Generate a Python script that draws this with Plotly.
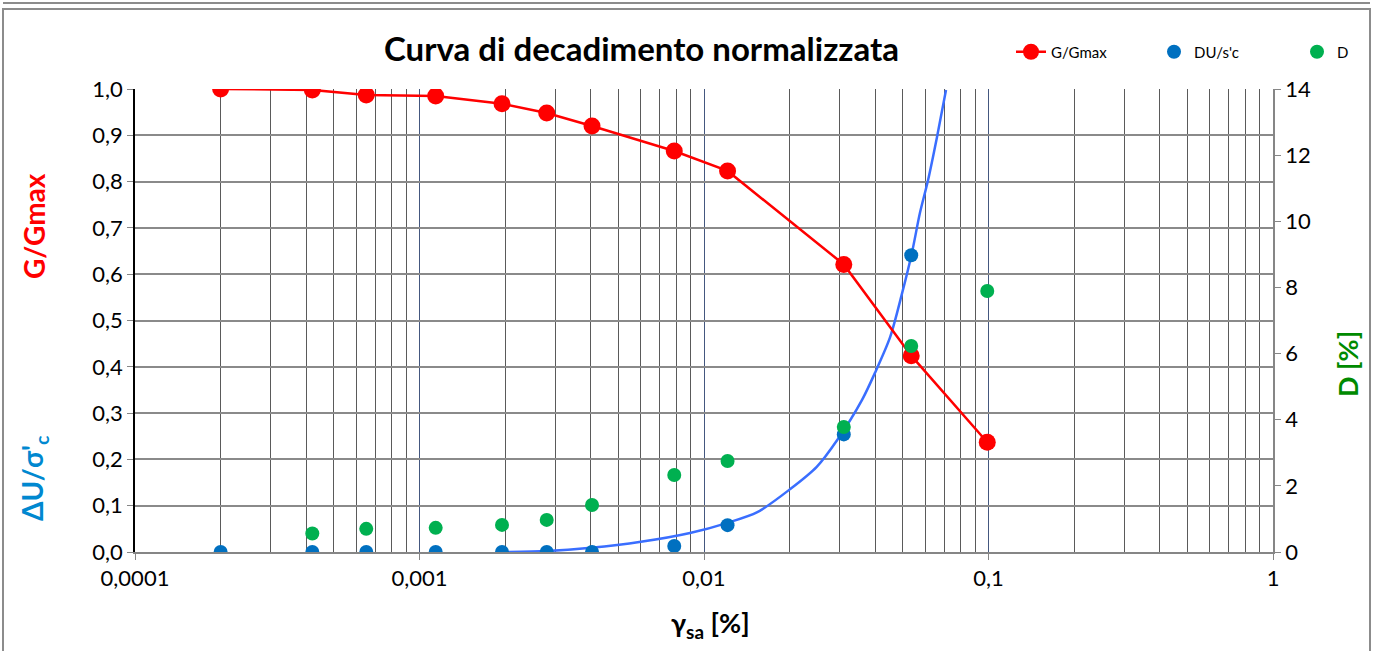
import plotly.graph_objects as go

# shear strain [%]
gamma = [0.0002, 0.00042, 0.00065, 0.00114, 0.00195, 0.0028, 0.00404, 0.00786, 0.0121, 0.031, 0.0535, 0.099]
g_gmax = [1.0, 0.998, 0.987, 0.985, 0.968, 0.948, 0.920, 0.866, 0.823, 0.621, 0.424, 0.237]

gamma_du = gamma[:11]
du_sc = [0.0, 0.0, 0.0, 0.0, 0.0, 0.0, 0.0, 0.013, 0.058, 0.254, 0.641]

gamma_d = gamma[1:]
damping = [0.56, 0.70, 0.73, 0.82, 0.97, 1.42, 2.33, 2.75, 3.78, 6.23, 7.89]

# trend curve of DU/s'c
curve_x = [0.00195, 0.0028, 0.004, 0.006, 0.00893, 0.0121, 0.0154, 0.0201, 0.0249, 0.0294,
           0.0359, 0.0399, 0.0451, 0.0497, 0.0538, 0.0574, 0.0613, 0.0659, 0.0709]
curve_y = [0.0, 0.002, 0.009, 0.022, 0.041, 0.063, 0.086, 0.136, 0.184, 0.242,
           0.328, 0.387, 0.464, 0.559, 0.646, 0.732, 0.803, 0.896, 0.998]

decades = [0.0001, 0.001, 0.01, 0.1, 1]
decade_labels = ["0,0001", "0,001", "0,01", "0,1", "1"]
minor_vals = [m * d for d in decades[:-1] for m in range(2, 10)]

FONT = "Lato"
RED = "#FF0000"
BLUE = "#0070C0"
GREEN = "#00B050"

fig = go.Figure()

fig.add_trace(go.Scatter(
    x=curve_x, y=curve_y, mode="lines",
    line=dict(color="#3A6EFF", width=2.5, shape="spline", smoothing=0.8),
    showlegend=False, hoverinfo="skip"))
fig.add_trace(go.Scatter(
    x=gamma, y=g_gmax, mode="lines+markers", name="G/Gmax",
    line=dict(color=RED, width=2.5), marker=dict(color=RED, size=17)))
fig.add_trace(go.Scatter(
    x=gamma_du, y=du_sc, mode="markers", name="DU/s'c",
    marker=dict(color=BLUE, size=14)))
fig.add_trace(go.Scatter(
    x=gamma_d, y=damping, mode="markers", name="D", yaxis="y2",
    marker=dict(color=GREEN, size=14)))

def px_x(p):
    return (p - 135) / 1138

def px_y(p):
    return (552 - p) / 463

fig.update_layout(
    width=1373, height=651,
    margin=dict(l=135, r=100, t=89, b=99, autoexpand=False),
    paper_bgcolor="white", plot_bgcolor="white",
    separators=",.",
    font=dict(family=FONT, size=22, color="black"),
    xaxis=dict(
        type="log", range=[-4, 0], tickvals=decades, ticktext=decade_labels,
        showgrid=True, gridcolor="#44577f", gridwidth=1,
        minor=dict(tickvals=minor_vals, showgrid=True, gridcolor="#5a5a5a", gridwidth=1, ticks=""),
        ticks="outside", ticklen=6, tickcolor="#868686",
        showline=True, linecolor="#868686", linewidth=2, zeroline=False,
        tickfont=dict(size=22),
    ),
    yaxis=dict(
        range=[0, 1.0], dtick=0.1, tickformat=".1f",
        showgrid=True, gridcolor="#8a8a8a", gridwidth=1.5,
        ticks="outside", ticklen=6, tickcolor="#868686",
        showline=True, linecolor="black", linewidth=1.5, zeroline=False,
        tickfont=dict(size=22),
    ),
    yaxis2=dict(
        range=[0, 14], dtick=2, overlaying="y", side="right",
        showgrid=False, zeroline=False,
        ticks="outside", ticklen=6, tickcolor="#868686",
        showline=True, linecolor="#868686", linewidth=1.5,
        tickfont=dict(size=22),
    ),
    legend=dict(
        orientation="h", x=px_x(1011), y=px_y(52), xanchor="left", yanchor="middle",
        font=dict(size=15), entrywidth=98, bgcolor="rgba(0,0,0,0)",
        itemclick=False,
    ),
    showlegend=True,
)

annotations = [
    dict(text="<b>Curva di decadimento normalizzata</b>", x=px_x(641), y=px_y(48),
         font=dict(size=33, color="black")),
    dict(text="<b>G/Gmax</b>", x=px_x(34), y=px_y(226), textangle=-90,
         font=dict(size=28, color=RED)),
    dict(text="<b>ΔU/σ'<sub>c</sub></b>", x=px_x(34), y=px_y(478), textangle=-90,
         font=dict(size=28, color="#0088D0")),
    dict(text="<b>D [%]</b>", x=px_x(1347), y=px_y(364), textangle=-90,
         font=dict(size=27, color="#008A00")),
    dict(text="<b>γ<sub>sa</sub> [%]</b>", x=px_x(710), y=px_y(624),
         font=dict(size=27, color="black")),
]
for a in annotations:
    a.update(xref="paper", yref="paper", showarrow=False, xanchor="center", yanchor="middle")
fig.update_layout(annotations=annotations)

# outer chart frame
fig.add_shape(type="rect", xref="paper", yref="paper",
              x0=px_x(3), x1=px_x(1370), y0=px_y(660), y1=px_y(9),
              line=dict(color="#8c8c8c", width=2), layer="below")
fig.add_shape(type="line", xref="paper", yref="paper",
              x0=px_x(3), x1=px_x(1370), y0=px_y(3), y1=px_y(3),
              line=dict(color="#8c8c8c", width=2))

fig.write_html("out.html", config={"displayModeBar": False},
               post_script="document.body.style.margin='0';")
